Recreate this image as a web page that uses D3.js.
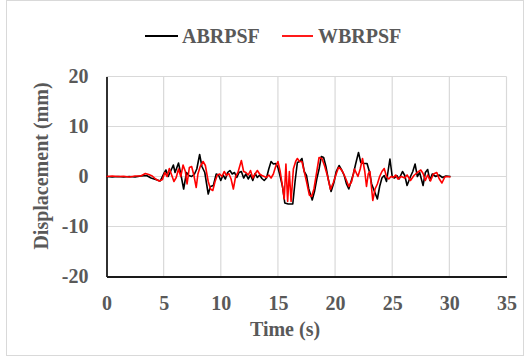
<!DOCTYPE html>
<html>
<head>
<meta charset="utf-8">
<script src="https://cdn.jsdelivr.net/npm/d3@7/dist/d3.min.js"></script>
<style>
  html, body { margin: 0; padding: 0; background: #fff; }
  svg { display: block; }
  text { font-family: "Liberation Serif", "Times New Roman", serif; font-weight: bold; fill: #595959; }
</style>
</head>
<body>
<svg id="chart" width="531" height="363"></svg>
<script>
// Displacement time histories (time in s, displacement in mm)
const abrpsfTime = [0,0.5,1,1.5,2,2.5,3,3.5,3.9,4.3,4.7,5,5.2,5.4,5.6,5.85,6,6.3,6.5,6.75,7,7.2,7.45,7.7,7.9,8.15,8.35,8.6,8.9,9.1,9.35,9.6,9.8,10,10.2,10.4,10.6,10.8,11,11.2,11.4,11.6,11.8,12,12.2,12.4,12.6,12.8,13,13.2,13.4,13.6,13.8,14,14.2,14.4,14.6,14.8,15,15.2,15.4,15.6,15.9,16.3,16.5,16.7,16.9,17.1,17.3,17.5,17.7,18,18.2,18.4,18.6,18.8,19,19.2,19.4,19.65,19.9,20.1,20.35,20.6,20.8,21,21.2,21.4,21.6,21.8,22.05,22.25,22.5,22.8,23,23.2,23.45,23.7,23.9,24.1,24.3,24.5,24.8,25,25.2,25.4,25.6,25.9,26.1,26.3,26.6,26.8,27,27.2,27.4,27.7,27.9,28.1,28.3,28.5,28.8,29.1,29.4,29.7,30.1];
const abrpsfDisp = [0,-0.1,0,-0.1,0,-0.1,0.1,0.2,-0.3,-0.6,-0.9,0.5,1.3,0,1,2.3,0.8,2.7,0.5,-2.5,0.8,0.2,0,0.5,1.5,4.4,2,0.8,-3.5,-2,-1.8,0.5,0.3,-0.8,0.3,-0.5,0.8,1.2,0.5,0.8,-0.2,0.8,1,-0.3,0.5,-0.5,0.3,-0.8,0.6,-0.2,0.3,-0.4,-0.8,-0.3,1.5,3,2.5,2.6,1.8,0,-2,-5.3,-5.5,-5.5,-1,2.8,3,3.6,1,0.2,-2.5,-4.7,-3,-0.5,1.5,4,3.8,2,-0.5,-3,-1.2,1,2.2,1.2,0.2,-1.5,-2.5,-1,0.5,2.5,4.8,2.8,2.6,2.6,1,-1.5,-3,-4.5,-2,-0.3,0.2,-1,3.5,0,-0.3,0.2,-0.5,1,0.2,-1.8,0,1,2.5,0,0.8,-1.8,0.8,1.4,-0.8,0.5,0,0.3,-0.2,0.1,0];

const wbrpsfTime = [0,0.5,1,1.5,2,2.5,3,3.4,3.7,4,4.3,4.6,4.9,5.1,5.3,5.5,5.7,5.9,6.1,6.3,6.5,6.7,6.9,7.05,7.25,7.45,7.65,7.85,8,8.2,8.45,8.65,8.9,9.1,9.3,9.5,9.7,9.9,10.1,10.3,10.5,10.7,10.9,11.1,11.3,11.5,11.8,12,12.2,12.4,12.6,12.8,13,13.2,13.4,13.6,13.8,14,14.2,14.4,14.6,14.8,15,15.2,15.4,15.55,15.7,15.85,16,16.15,16.35,16.55,16.7,16.9,17.1,17.3,17.5,17.75,17.95,18.15,18.4,18.6,18.85,19.1,19.35,19.6,19.85,20.1,20.3,20.5,20.7,20.95,21.2,21.45,21.7,22,22.2,22.4,22.6,22.75,22.9,23.05,23.3,23.5,23.7,23.9,24.1,24.3,24.5,24.7,24.9,25.1,25.3,25.5,25.8,26.1,26.3,26.6,26.9,27.2,27.5,27.7,27.9,28.1,28.35,28.6,28.9,29.1,29.35,29.6,29.8,30.1];
const wbrpsfDisp = [0,0.1,0,0.05,-0.1,0.1,0.1,0.6,0.4,0.1,-0.5,-0.9,-0.6,0.8,0,1.6,0.3,-1,-0.2,1.5,0,2.3,1,-1.5,1.8,2,0.2,-2.2,0.5,2,3,2.2,-1,-2.5,-2.8,-1,0.3,0.5,0,1,0.2,0.6,-0.5,-2.5,0,0.8,3.2,1,0.8,0.3,1.2,-0.3,0.5,1.2,0.5,0.2,0,-0.2,0.3,-0.3,0.5,2,3,1,-2,-4.5,2.5,-5,1,-5,1.5,3,3.6,3,3,1,-1,-3.7,-4,-2.5,1,3.8,3.6,2,0,-2.6,-1.2,0.5,1.8,1.5,0.8,-0.5,-2,-1,1.5,0,1.5,3.6,1,-2,0.5,1,-4.8,-2.5,-1.5,0,1,1.6,0,-0.5,0,-0.2,0.3,-0.5,0,-0.3,0.3,-0.8,0.2,0.8,1.3,0.6,-0.8,0.3,-0.9,0.5,0.8,-0.4,-1.3,-0.1,0,-0.1];

const xTicks = [0, 5, 10, 15, 20, 25, 30, 35];
const yTicks = [-20, -10, 0, 10, 20];
const seriesNames = ["ABRPSF", "WBRPSF"];
const seriesColors = ["#000000", "#ff0000"];

const svg = d3.select("#chart");

// outer chart frame
svg.append("rect")
  .attr("x", 6.5).attr("y", 0.5).attr("width", 517).attr("height", 355)
  .attr("fill", "#fff").attr("stroke", "#d9d9d9").attr("stroke-width", 1);

const plot = { left: 106.5, right: 506.5, top: 76.5, bottom: 276.5 };
const x = d3.scaleLinear().domain([0, 35]).range([plot.left, plot.right]);
const y = d3.scaleLinear().domain([-20, 20]).range([plot.bottom, plot.top]);

// gridlines
const grid = svg.append("g");
grid.selectAll("line.v").data(xTicks.filter(t => t > 0)).join("line")
  .attr("x1", d => x(d)).attr("x2", d => x(d))
  .attr("y1", plot.top).attr("y2", plot.bottom)
  .attr("stroke", "#d9d9d9").attr("stroke-width", 1.2);
grid.selectAll("line.h").data(yTicks.filter(t => t > -20)).join("line")
  .attr("x1", plot.left).attr("x2", plot.right)
  .attr("y1", d => y(d)).attr("y2", d => y(d))
  .attr("stroke", "#d9d9d9").attr("stroke-width", 1.2);

// axes (plain hyphen for negative labels)
const plain = d => String(d);
const xAxis = d3.axisBottom(x).tickValues(xTicks).tickFormat(plain).tickSize(0).tickPadding(19);
const yAxis = d3.axisLeft(y).tickValues(yTicks).tickFormat(plain).tickSize(0).tickPadding(18);

const gx = svg.append("g").attr("transform", `translate(0,${plot.bottom})`).call(xAxis);
const gy = svg.append("g").attr("transform", `translate(${plot.left},0)`).call(yAxis);
[gx, gy].forEach(g => {
  g.select(".domain").attr("stroke", "#1a1a1a").attr("stroke-width", 1.8);
  g.selectAll("text").attr("font-family", "Liberation Serif, serif")
    .attr("font-weight", "bold").attr("font-size", 20).attr("fill", "#595959");
});

// series lines
const line = d3.line().x(d => x(d[0])).y(d => y(d[1]));
const series = [
  d3.zip(abrpsfTime, abrpsfDisp),
  d3.zip(wbrpsfTime, wbrpsfDisp)
];
series.forEach((pts, i) => {
  svg.append("path").datum(pts)
    .attr("d", line)
    .attr("fill", "none")
    .attr("stroke", seriesColors[i])
    .attr("stroke-width", 1.6)
    .attr("stroke-linejoin", "round");
});

// axis titles
svg.append("text").attr("x", 285).attr("y", 336)
  .attr("text-anchor", "middle").attr("font-size", 20).text("Time (s)");
svg.append("text")
  .attr("transform", "translate(48,166) rotate(-90)")
  .attr("text-anchor", "middle").attr("font-size", 20).text("Displacement (mm)");

// legend
const legendItems = [
  { x1: 145, x2: 178, tx: 182 },
  { x1: 282, x2: 313, tx: 318 }
];
legendItems.forEach((it, i) => {
  svg.append("line")
    .attr("x1", it.x1).attr("x2", it.x2).attr("y1", 36).attr("y2", 36)
    .attr("stroke", seriesColors[i]).attr("stroke-width", 1.8);
  svg.append("text").attr("x", it.tx).attr("y", 43)
    .attr("font-size", 20).text(seriesNames[i]);
});
</script>
</body>
</html>
